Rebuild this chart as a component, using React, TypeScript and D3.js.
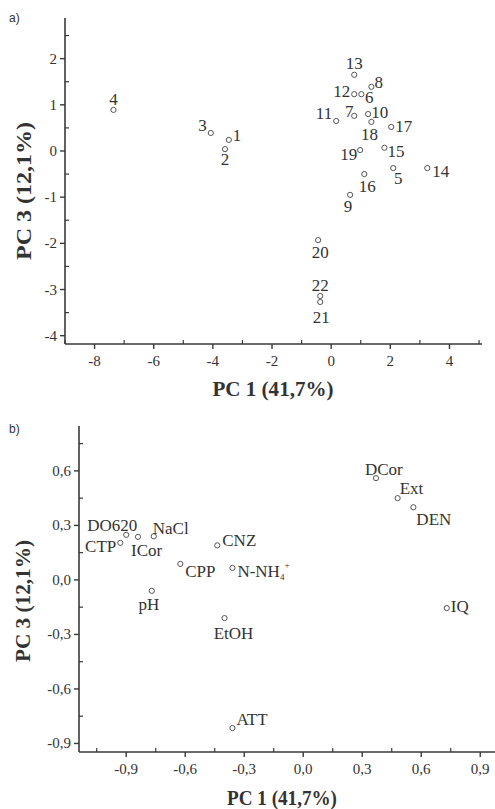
import React from "react";
import * as d3 from "d3";

// Scores (panel a): sample number, PC1, PC3
const sampleIds = ["1", "2", "3", "4", "5", "6", "7", "8", "9", "10", "11", "12", "13", "14", "15", "16", "17", "18", "19", "20", "21", "22"];
const samplePC1 = [-3.46, -3.59, -4.07, -7.36, 2.1, 1.02, 0.78, 1.36, 0.64, 1.25, 0.17, 0.78, 0.78, 3.25, 1.8, 1.12, 2.03, 1.36, 0.98, -0.44, -0.37, -0.37];
const samplePC3 = [0.24, 0.04, 0.39, 0.89, -0.37, 1.23, 0.76, 1.39, -0.95, 0.8, 0.65, 1.23, 1.65, -0.37, 0.07, -0.5, 0.52, 0.63, 0.02, -1.93, -3.27, -3.14];

// Loadings (panel b): variable, PC1, PC3
const varNames = ["DO620", "NaCl", "CTP", "ICor", "CNZ", "CPP", "N-NH4+", "pH", "EtOH", "ATT", "DCor", "Ext", "DEN", "IQ"];
const varPC1 = [-0.9, -0.76, -0.93, -0.84, -0.437, -0.625, -0.36, -0.77, -0.4, -0.36, 0.37, 0.48, 0.56, 0.73];
const varPC3 = [0.248, 0.24, 0.204, 0.237, 0.19, 0.088, 0.066, -0.06, -0.21, -0.815, 0.56, 0.45, 0.4, -0.155];

const ticksA_x = [-8, -6, -4, -2, 0, 2, 4];
const ticksA_y = [-4, -3, -2, -1, 0, 1, 2];
const ticksB = [-0.9, -0.6, -0.3, 0.0, 0.3, 0.6, 0.9];
const ticksB_y = [-0.9, -0.6, -0.3, 0.0, 0.3, 0.6];

// label placement: [dx, dy, anchor]
const labelPosA: Record<string, [number, number, string]> = {
  "1": [4, 1, "start"], "2": [0, 16, "middle"], "3": [-4, -2, "end"], "4": [0, -5, "middle"],
  "5": [5, 16, "middle"], "6": [8, 9, "middle"], "7": [-5, 1, "middle"], "8": [3, 1, "start"],
  "9": [-2, 17, "middle"], "10": [3, 4, "start"], "11": [-4, -2, "end"], "12": [-4, 3, "end"],
  "13": [0, -6, "middle"], "14": [5, 9, "start"], "15": [3, 9, "start"], "16": [3, 18, "middle"],
  "17": [4, 5, "start"], "18": [-2, 18, "middle"], "19": [-3, 10, "end"], "20": [2, 18, "middle"],
  "21": [1, 21, "middle"], "22": [0, -5, "middle"],
};
const labelPosB: Record<string, [number, number, string]> = {
  DO620: [11, -4, "end"], NaCl: [-1, -2, "start"], CTP: [-4, 9, "end"], ICor: [-7, 19, "start"],
  CNZ: [5, 1, "start"], CPP: [5, 13, "start"], "N-NH4+": [5, 9, "start"], pH: [-3, 19, "middle"],
  EtOH: [9, 21, "middle"], ATT: [4, -3, "start"], DCor: [-11, -3, "start"], Ext: [2, -4, "start"],
  DEN: [3, 18, "start"], IQ: [4, 4, "start"],
};

const serif = "'Liberation Serif', 'Times New Roman', serif";
const ink = "#333";

function fmt(v: number) {
  return d3.format(".1f")(v).replace(".", ",").replace("−", "-");
}

function Axes({ x, y, xt, yt, xminor, yminor, xfmt, yfmt, fs }: any) {
  const [x0, x1] = x.range();
  const [y0] = y.range();
  const yTop = y.range()[1];
  return (
    <g fill={ink} fontFamily={serif} fontSize={fs}>
      <line x1={x0} x2={x0} y1={y0} y2={yTop} stroke="#3a3a3a" strokeWidth={1.6} />
      <line x1={x0} x2={x1} y1={y0} y2={y0} stroke="#3a3a3a" strokeWidth={1.6} />
      {yt.map((t: number) => (
        <g key={"y" + t}>
          <line x1={x0 - 5} x2={x0} y1={y(t)} y2={y(t)} stroke="#3a3a3a" strokeWidth={1.4} />
          <text x={x0 - 8} y={y(t) + 5} textAnchor="end">{yfmt(t)}</text>
        </g>
      ))}
      {yminor.map((t: number) => (
        <line key={"ym" + t} x1={x0} x2={x0 + 4} y1={y(t)} y2={y(t)} stroke="#3a3a3a" strokeWidth={1.2} />
      ))}
      {xt.map((t: number) => (
        <g key={"x" + t}>
          <line x1={x(t)} x2={x(t)} y1={y0} y2={y0 + 5} stroke="#3a3a3a" strokeWidth={1.4} />
          <text x={x(t)} y={y0 + 22} textAnchor="middle">{xfmt(t)}</text>
        </g>
      ))}
      {xminor.map((t: number) => (
        <line key={"xm" + t} x1={x(t)} x2={x(t)} y1={y0} y2={y0 - 4} stroke="#3a3a3a" strokeWidth={1.2} />
      ))}
    </g>
  );
}

function Point({ cx, cy }: { cx: number; cy: number }) {
  return <circle cx={cx} cy={cy} r={2.6} fill="white" stroke="#555" strokeWidth={1} />;
}

export default function App() {
  // panel a scales
  const xa = d3.scaleLinear().domain([-9, 5.1]).range([65, 482]);
  const ya = d3.scaleLinear().domain([-4.18, 2.88]).range([344, 18]);
  // panel b scales
  const xb = d3.scaleLinear().domain([-1.14, 0.975]).range([79, 495]);
  const yb = d3.scaleLinear().domain([-0.947, 0.847]).range([752, 426]);

  const minorA_x = d3.range(-9, 5.5, 1).filter((v) => Math.round(v) % 2 !== 0);
  const minorA_y = d3.range(-3.5, 3, 1);
  const minorB_x = d3.range(-1.05, 1.0, 0.3);
  const minorB_y = d3.range(-0.75, 0.8, 0.3);

  return (
    <svg width={495} height={809} style={{ position: "absolute", left: 0, top: 0, background: "white" }}>
      <rect width={495} height={809} fill="white" />
      <text x={9} y={22} fontFamily="'Liberation Sans', Arial, sans-serif" fontSize={12} fill={ink}>a)</text>
      <text x={9} y={433} fontFamily="'Liberation Sans', Arial, sans-serif" fontSize={12} fill={ink}>b)</text>

      {/* panel a */}
      <Axes x={xa} y={ya} xt={ticksA_x} yt={ticksA_y} xminor={minorA_x} yminor={minorA_y}
        xfmt={(t: number) => String(t)} yfmt={(t: number) => String(t)} fs={15} />
      <g fontFamily={serif} fontSize={17} fill={ink}>
        {sampleIds.map((id, i) => {
          const cx = xa(samplePC1[i]);
          const cy = ya(samplePC3[i]);
          const [dx, dy, anchor] = labelPosA[id];
          return (
            <g key={id}>
              <Point cx={cx} cy={cy} />
              <text x={cx + dx} y={cy + dy} textAnchor={anchor as any}>{id}</text>
            </g>
          );
        })}
      </g>
      <text x={273} y={396} textAnchor="middle" fontFamily={serif} fontWeight="bold" fontSize={20}
        textLength={121} lengthAdjust="spacingAndGlyphs" fill={ink}>PC 1 (41,7%)</text>
      <text transform="translate(31,191) rotate(-90)" textAnchor="middle" fontFamily={serif} fontWeight="bold"
        fontSize={20} textLength={138} lengthAdjust="spacingAndGlyphs" fill={ink}>PC 3 (12,1%)</text>

      {/* panel b */}
      <Axes x={xb} y={yb} xt={ticksB} yt={ticksB_y} xminor={minorB_x} yminor={minorB_y}
        xfmt={fmt} yfmt={fmt} fs={15} />
      <g fontFamily={serif} fontSize={17} fill={ink}>
        {varNames.map((name, i) => {
          const cx = xb(varPC1[i]);
          const cy = yb(varPC3[i]);
          const [dx, dy, anchor] = labelPosB[name];
          return (
            <g key={name}>
              <Point cx={cx} cy={cy} />
              {name === "N-NH4+" ? (
                <text x={cx + dx} y={cy + dy} textAnchor={anchor as any}>
                  N-NH<tspan fontSize={9} dy={3}>4</tspan>
                  <tspan fontSize={9} dy={-12}>+</tspan>
                </text>
              ) : (
                <text x={cx + dx} y={cy + dy} textAnchor={anchor as any}>{name}</text>
              )}
            </g>
          );
        })}
      </g>
      <text x={282} y={805} textAnchor="middle" fontFamily={serif} fontWeight="bold" fontSize={20}
        textLength={110} lengthAdjust="spacingAndGlyphs" fill={ink}>PC 1 (41,7%)</text>
      <text transform="translate(30,601) rotate(-90)" textAnchor="middle" fontFamily={serif} fontWeight="bold"
        fontSize={20} textLength={122} lengthAdjust="spacingAndGlyphs" fill={ink}>PC 3 (12,1%)</text>
    </svg>
  );
}
